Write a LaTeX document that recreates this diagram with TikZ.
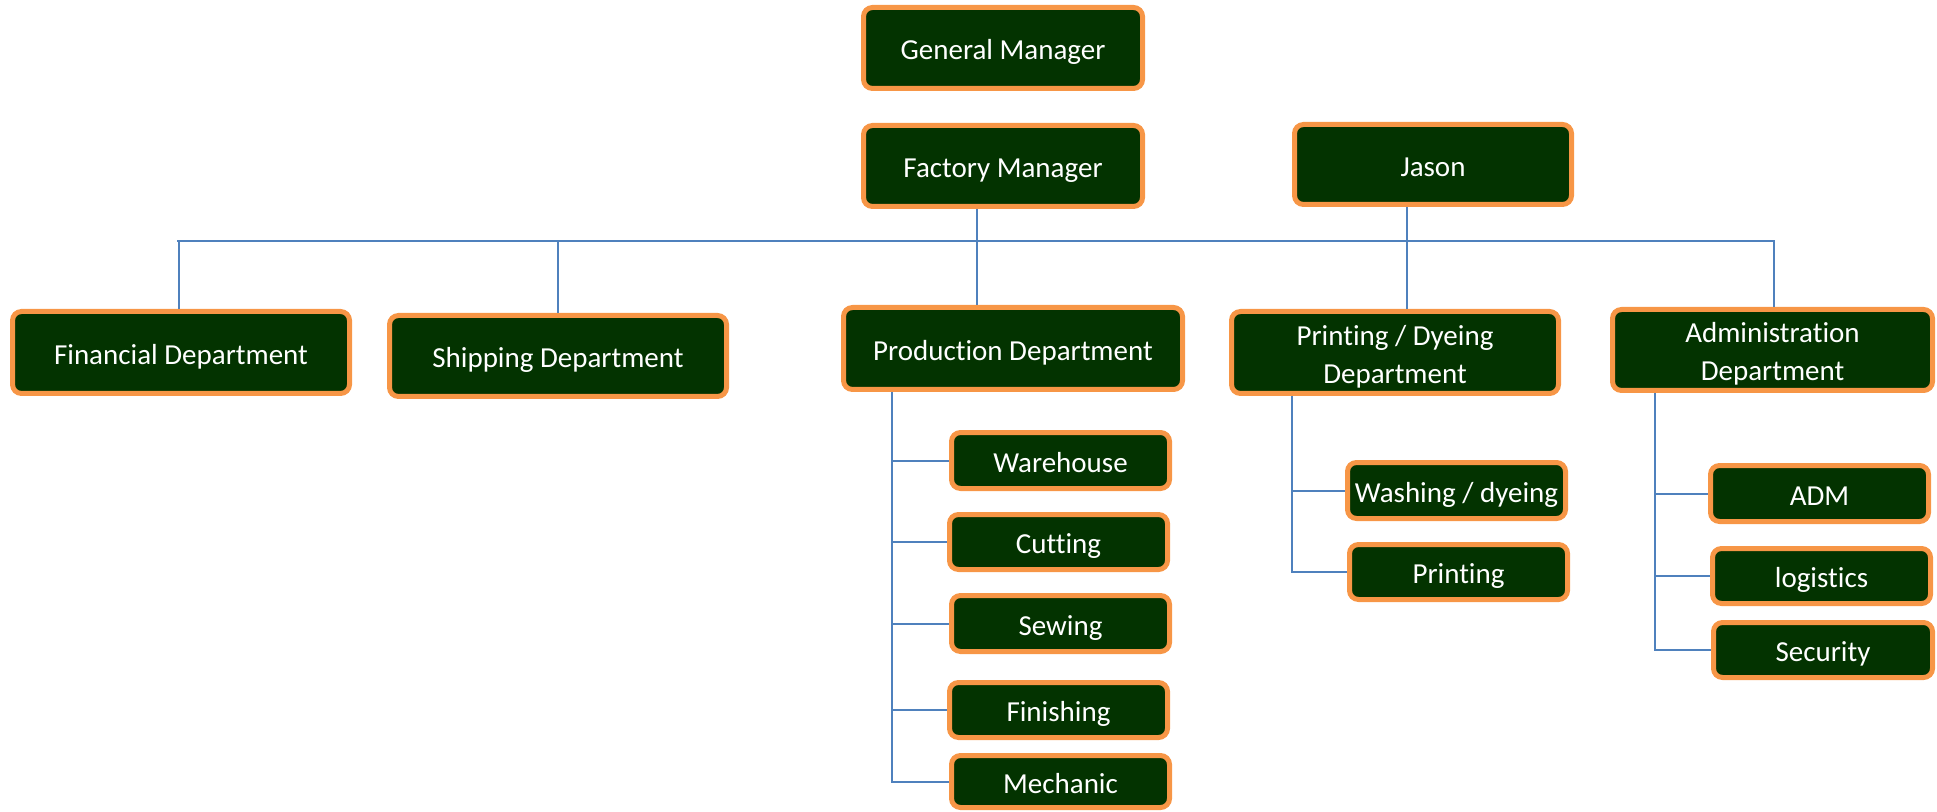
\documentclass[tikz,border=0pt]{standalone}
\usepackage{fontspec}
\setmainfont{Carlito}[Ligatures=NoCommon]
\definecolor{boxgreen}{RGB}{3,51,0}
\definecolor{boxorange}{RGB}{247,150,70}
\definecolor{linkblue}{RGB}{79,129,189}
\tikzset{
  orgbox/.style={draw=boxorange, fill=boxgreen, line width=2.5pt,
    rounded corners=4.5pt, text=white, inner sep=0pt,
    font=\fontsize{14.5}{19}\selectfont},
  link/.style={draw=linkblue, line width=1pt}
}
% \orgbox{name}{left}{top}{right}{bottom}{label}, edges in pixel units (outer edge of the border)
\newcommand\orgbox[6]{%
  \pgfmathsetmacro\obw{(#4-#2-5)*0.5}%
  \pgfmathsetmacro\obh{(#5-#3-5)*0.5}%
  \node[orgbox, minimum width=\obw pt, minimum height=\obh pt] (#1)
    at ({(#2+#4)/2},{(#3+#5)/2})
    {\raisebox{-2pt}[\height][\depth]{\begin{tabular}{@{}c@{}}#6\end{tabular}}};}
\begin{document}
\begin{tikzpicture}[x=0.5pt, y=-0.5pt]
\useasboundingbox (0,0) rectangle (1937,812);

% top level
\orgbox{gm}{861}{5}{1145}{91}{General Manager}
\orgbox{fm}{861}{123}{1145}{209}{Factory Manager}
\orgbox{jason}{1292}{122}{1574}{207}{Jason}

% departments
\orgbox{fin}{10}{309}{352}{396}{Financial Department}
\orgbox{ship}{387}{313}{729}{399}{Shipping Department}
\orgbox{prod}{841}{305}{1185}{392}{Production Department}
\orgbox{pd}{1229}{309}{1561}{396}{Printing / Dyeing\\Department}
\orgbox{adm}{1610}{307}{1935}{393}{Administration\\Department}

% production sections
\orgbox{ware}{949}{430}{1172}{491}{Warehouse}
\orgbox{cut}{947}{512}{1170}{572}{Cutting}
\orgbox{sew}{949}{593}{1172}{654}{Sewing}
\orgbox{finish}{947}{680}{1170}{740}{Finishing}
\orgbox{mech}{949}{753}{1172}{810}{Mechanic}

% printing / dyeing sections
\orgbox{wash}{1345}{460}{1568}{521}{Washing / dyeing}
\orgbox{print}{1347}{542}{1570}{602}{Printing}

% administration sections
\orgbox{admsub}{1708}{463}{1931}{524}{ADM}
\orgbox{logi}{1710}{546}{1933}{606}{logistics}
\orgbox{secu}{1711}{620}{1935}{680}{Security}

% horizontal bus and its junctions
\coordinate (busL) at (177,241);
\coordinate (busR) at (1775,241);
\coordinate (jFin) at (179,241);
\coordinate (jShip) at (558,241);
\coordinate (jProd) at (977,241);
\coordinate (jPD) at (1407,241);
\coordinate (jAdm) at (1774,241);

\draw[link] (busL) -- (busR);
\draw[link] (jFin) -- (jFin |- fin.north);
\draw[link] (jShip) -- (jShip |- ship.north);
\draw[link] (jProd |- fm.south) -- (jProd |- prod.north);
\draw[link] (jPD |- jason.south) -- (jPD |- pd.north);
\draw[link] (jAdm) -- (jAdm |- adm.north);

% production trunk
\coordinate (tProd) at (892,392);
\draw[link] (tProd |- prod.south) -- (tProd |- mech.west) -- (mech.west);
\draw[link] (tProd |- ware.west) -- (ware.west);
\draw[link] (tProd |- cut.west) -- (cut.west);
\draw[link] (tProd |- sew.west) -- (sew.west);
\draw[link] (tProd |- finish.west) -- (finish.west);

% printing / dyeing trunk
\coordinate (tPD) at (1292,396);
\draw[link] (tPD |- pd.south) -- (tPD |- print.west) -- (print.west);
\draw[link] (tPD |- wash.west) -- (wash.west);

% administration trunk
\coordinate (tAdm) at (1655,393);
\draw[link] (tAdm |- adm.south) -- (tAdm |- secu.west) -- (secu.west);
\draw[link] (tAdm |- admsub.west) -- (admsub.west);
\draw[link] (tAdm |- logi.west) -- (logi.west);
\end{tikzpicture}
\end{document}
